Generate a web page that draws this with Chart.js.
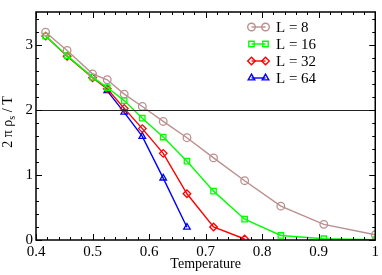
<!DOCTYPE html>
<html><head><meta charset="utf-8">
<script src="https://cdn.jsdelivr.net/npm/chart.js@4/dist/chart.umd.min.js"></script>
<style>html,body{margin:0;padding:0;background:#fff;}#wrap{width:382px;height:275px;}</style>
</head><body><div id="wrap"><canvas id="c" width="382" height="275"></canvas></div>
<script>
const temps = [0.417, 0.455, 0.5, 0.526, 0.556, 0.588, 0.625, 0.667, 0.714, 0.769, 0.833, 0.909, 1.0];
const L8  = [3.19, 2.91, 2.55, 2.46, 2.24, 2.05, 1.82, 1.57, 1.26, 0.91, 0.52, 0.24, 0.08];
const L16 = [3.13, 2.83, 2.50, 2.34, 2.14, 1.87, 1.58, 1.21, 0.75, 0.32, 0.07, 0.02, 0.005];
const L32 = [3.13, 2.82, 2.49, 2.32, 2.02, 1.71, 1.33, 0.71, 0.20, 0.015];
const temps64 = [0.526, 0.556, 0.588, 0.625, 0.667];
const L64 = [2.29, 1.96, 1.59, 0.95, 0.195];
const seriesNames = ['L = 8', 'L = 16', 'L = 32', 'L = 64'];
const xTickLabels = ['0.4', '0.5', '0.6', '0.7', '0.8', '0.9', '1'];
const yTickLabels = ['0', '1', '2', '3'];
const refLine = 2;

const SERIF = "'Liberation Serif', 'Times New Roman', serif";
const pts = (xs, ys) => ys.map((y, i) => ({x: xs[i], y}));

function ds(label, data, color, style, r) {
  return {label, data, borderColor: color, backgroundColor: 'rgba(0,0,0,0)',
    borderWidth: 1.4, pointStyle: style, pointRadius: r, pointBorderWidth: 1.3,
    pointBorderColor: color, pointBackgroundColor: 'rgba(0,0,0,0)', tension: 0, fill: false};
}

const framePlugin = {
  id: 'frame',
  afterDatasetsDraw(chart) {
    const {ctx, chartArea: a, scales: {x, y}} = chart;
    ctx.save();
    const yr = y.getPixelForValue(refLine);
    ctx.strokeStyle = '#222'; ctx.lineWidth = 1;
    ctx.beginPath(); ctx.moveTo(a.left, Math.round(yr) + 0.5); ctx.lineTo(a.right, Math.round(yr) + 0.5); ctx.stroke();
    ctx.strokeStyle = '#000'; ctx.lineWidth = 1;
    for (let i = 0; i <= 30; i++) {
      const v = 0.4 + i * 0.02;
      const px = Math.round(x.getPixelForValue(v)) + 0.5;
      const len = (i % 5 === 0) ? 6 : 3;
      ctx.beginPath();
      ctx.moveTo(px, a.bottom); ctx.lineTo(px, a.bottom - len);
      ctx.moveTo(px, a.top); ctx.lineTo(px, a.top + len);
      ctx.stroke();
    }
    for (let i = 0; i <= 17; i++) {
      const v = i * 0.2;
      const py = Math.round(y.getPixelForValue(v)) + 0.5;
      const len = (i % 5 === 0) ? 6 : 3;
      ctx.beginPath();
      ctx.moveTo(a.left, py); ctx.lineTo(a.left + len, py);
      ctx.moveTo(a.right, py); ctx.lineTo(a.right - len, py);
      ctx.stroke();
    }
    ctx.lineWidth = 1.5;
    ctx.strokeRect(a.left, a.top, a.right - a.left, a.bottom - a.top);
    const sets = chart.data.datasets;
    ctx.font = '15px ' + SERIF;
    ctx.textBaseline = 'middle';
    sets.forEach((d, i) => {
      const cy = 27 + i * 17;
      ctx.strokeStyle = d.borderColor; ctx.lineWidth = 1.4;
      ctx.beginPath(); ctx.moveTo(251.5, cy); ctx.lineTo(265.5, cy); ctx.stroke();
      const opts = {pointStyle: d.pointStyle, radius: d.pointRadius, borderWidth: 1.3, rotation: 0};
      ctx.fillStyle = 'rgba(0,0,0,0)';
      Chart.helpers.drawPoint(ctx, opts, 251.5, cy);
      Chart.helpers.drawPoint(ctx, opts, 265.5, cy);
      ctx.fillStyle = '#000';
      ctx.fillText(d.label, 276, cy + 1);
    });
    ctx.save();
    ctx.translate(8, 122);
    ctx.rotate(-Math.PI / 2);
    ctx.textBaseline = 'middle';
    ctx.fillStyle = '#000';
    const p1 = '2 \u03c0 \u03c1', p2 = 's', p3 = ' / T';
    ctx.font = '14px ' + SERIF; const w1 = ctx.measureText(p1).width;
    ctx.font = '10px ' + SERIF; const w2 = ctx.measureText(p2).width;
    ctx.font = '14px ' + SERIF; const w3 = ctx.measureText(p3).width;
    let sx = -(w1 + w2 + w3) / 2;
    ctx.fillText(p1, sx, 0); sx += w1;
    ctx.font = '10px ' + SERIF; ctx.fillText(p2, sx, 4); sx += w2;
    ctx.font = '14px ' + SERIF; ctx.fillText(p3, sx, 0);
    ctx.restore();
    ctx.restore();
  }
};

new Chart(document.getElementById('c'), {
  type: 'line',
  data: {datasets: [
    ds(seriesNames[0], pts(temps, L8), '#bc8f8f', 'circle', 3.8),
    ds(seriesNames[1], pts(temps, L16), '#00ff00', 'rect', 3.8),
    ds(seriesNames[2], pts(temps, L32), '#ff0000', 'rectRot', 3.8),
    ds(seriesNames[3], pts(temps64, L64), '#0000ff', 'triangle', 3.8)
  ]},
  options: {
    responsive: false, animation: false, events: [],
    layout: {padding: {top: 1, right: 4, left: 0, bottom: 0}},
    plugins: {legend: {display: false}, tooltip: {enabled: false}},
    scales: {
      x: {type: 'linear', min: 0.4, max: 1.0,
        afterFit(s) { s.height = 35; },
        afterBuildTicks(s) { s.ticks = xTickLabels.map(t => ({value: parseFloat(t)})); },
        grid: {display: false, drawTicks: false}, border: {display: false},
        ticks: {padding: 3, color: '#000', font: {family: SERIF, size: 15},
          callback: (v) => xTickLabels.find(t => Math.abs(parseFloat(t) - v) < 1e-6) || ''},
        title: {display: true, text: 'Temperature', color: '#000', font: {family: SERIF, size: 14}, padding: {top: 0, bottom: 2}}
      },
      y: {type: 'linear', min: 0, max: 3.5,
        afterFit(s) { s.width = 36; },
        afterBuildTicks(s) { s.ticks = yTickLabels.map(t => ({value: parseFloat(t)})); },
        grid: {display: false, drawTicks: false}, border: {display: false},
        ticks: {padding: 3, color: '#000', font: {family: SERIF, size: 15},
          callback: (v) => yTickLabels.find(t => Math.abs(parseFloat(t) - v) < 1e-6) || ''}
      }
    }
  },
  plugins: [framePlugin]
});
</script>
</body></html>
